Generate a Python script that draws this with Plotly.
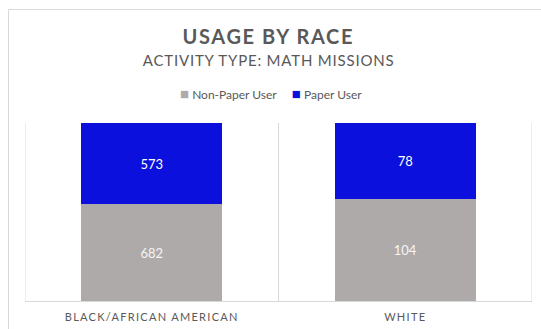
import plotly.graph_objects as go

# Usage counts per race group, split by paper use
categories = ["BLACK/AFRICAN AMERICAN", "WHITE"]
non_paper = [682, 104]
paper = [573, 78]
series_names = ["Non-Paper User", "Paper User"]

GRAY = "#AEAAAA"
BLUE = "#0B10DD"
FONT = "Lato"

fig = go.Figure()
fig.add_trace(go.Bar(
    x=categories, y=non_paper, name=series_names[0], marker_color=GRAY,
    marker_line_width=0, text=non_paper, texttemplate="%{text}",
    textposition="inside", insidetextanchor="middle",
    textfont=dict(family=FONT, size=13, color="#F5F5F5"), showlegend=False,
))
fig.add_trace(go.Bar(
    x=categories, y=paper, name=series_names[1], marker_color=BLUE,
    marker_line_width=0, text=paper, texttemplate="%{text}",
    textposition="inside", insidetextanchor="middle",
    textfont=dict(family=FONT, size=13, color="white"), showlegend=False,
))

L, R, T, B = 25, 9, 123, 28
W, H = 541, 329
pw, ph = W - L - R, H - T - B


def px_x(px):
    return (px - L) / pw


def px_y(py):
    return (H - B - py) / ph


# Category separators and outer chart frame
shapes = []
for xv in [-0.5, 0.5, 1.5]:
    shapes.append(dict(type="line", xref="x", yref="paper", x0=xv, x1=xv,
                       y0=0, y1=1, line=dict(color="#D9D9D9", width=1)))
shapes.append(dict(type="rect", xref="paper", yref="paper",
                   x0=px_x(8.5), x1=px_x(560), y0=px_y(9.5), y1=px_y(360),
                   line=dict(color="#D9D9D9", width=1), layer="below"))

annotations = [
    dict(text="<b>USAGE BY RACE</b>", x=px_x(268), y=px_y(36), xref="paper",
         yref="paper", showarrow=False, xanchor="center", yanchor="middle",
         font=dict(family=FONT, size=20, color="#595959")),
    dict(text="ACTIVITY TYPE: MATH MISSIONS", x=px_x(268), y=px_y(60),
         xref="paper", yref="paper", showarrow=False, xanchor="center",
         yanchor="middle", font=dict(family=FONT, size=15, color="#595959")),
    dict(text=f"<span style='color:{GRAY};font-size:15px'>■</span> {series_names[0]}"
              f"     <span style='color:{BLUE};font-size:15px'>■</span> {series_names[1]}",
         x=px_x(271), y=px_y(93), xref="paper", yref="paper", showarrow=False,
         xanchor="center", yanchor="middle",
         font=dict(family=FONT, size=12, color="#595959")),
]

fig.update_layout(
    width=W, height=H, barmode="stack", barnorm="fraction", bargap=0.445,
    margin=dict(l=L, r=R, t=T, b=B, autoexpand=False),
    paper_bgcolor="white", plot_bgcolor="white",
    shapes=shapes, annotations=annotations, showlegend=False,
    xaxis=dict(showline=True, linecolor="#D9D9D9", linewidth=1, ticks="",
               showgrid=False, range=[-0.5, 1.5], ticklabelstandoff=6,
               automargin=False,
               tickfont=dict(family=FONT, size=11, color="#595959")),
    yaxis=dict(visible=False, range=[0, 1]),
)

post = """
var gd = document.getElementById('{plot_id}');
function spacing() {
  gd.querySelectorAll('.xtick text').forEach(function(t){ t.style.letterSpacing = '1.3px'; });
  var ann = gd.querySelectorAll('.annotation-text');
  if (ann[0]) ann[0].style.letterSpacing = '1.6px';
  if (ann[1]) ann[1].style.letterSpacing = '0.8px';
}
spacing();
gd.on('plotly_afterplot', spacing);
"""

fig.write_html("out.html", post_script=post)
